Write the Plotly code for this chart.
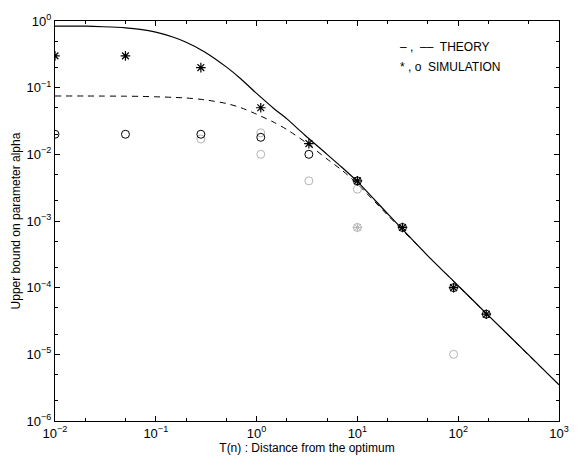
import plotly.graph_objects as go

# Theory curves
x_theory = [0.01, 0.02, 0.03, 0.05, 0.07, 0.1, 0.15, 0.2, 0.3, 0.5, 0.7, 1, 1.5, 2, 3, 5, 7, 10, 20, 50, 100, 200, 500, 1000]
y_theory_solid = [0.84, 0.835, 0.82, 0.79, 0.75, 0.68, 0.57, 0.48, 0.35, 0.205, 0.135, 0.082, 0.048, 0.034, 0.0195, 0.01, 0.0064, 0.0039, 0.00128, 0.0003, 1.07e-4, 3.8e-5, 9.8e-6, 3.5e-6]
y_theory_dashed = [0.075, 0.075, 0.0748, 0.0745, 0.074, 0.073, 0.0715, 0.07, 0.066, 0.058, 0.05, 0.04, 0.03, 0.0235, 0.0155, 0.0085, 0.0058, 0.0036, 0.00122, 0.0003, 1.06e-4, 3.8e-5, 9.7e-6, 3.5e-6]

# Simulation points
x_sim = [0.01, 0.05, 0.28, 1.1, 3.3, 10, 28, 90, 190]
y_sim_star = [0.3, 0.3, 0.2, 0.05, 0.0145, 0.004, 0.0008, 0.0001, 0.00004]
y_sim_circle = [0.02, 0.02, 0.02, 0.018, 0.01, 0.004, 0.0008, 0.0001, 0.00004]

x_grey_circle = [0.28, 1.1, 1.1, 3.3, 10, 10, 90]
y_grey_circle = [0.017, 0.021, 0.01, 0.004, 0.003, 0.0008, 0.00001]
x_grey_star = [10]
y_grey_star = [0.0008]

x_tickvals = [0.01, 0.1, 1, 10, 100, 1000]
x_ticktext = ["10<sup>−2</sup>", "10<sup>−1</sup>", "10<sup>0</sup>", "10<sup>1</sup>", "10<sup>2</sup>", "10<sup>3</sup>"]
y_tickvals = [1e-6, 1e-5, 1e-4, 1e-3, 1e-2, 1e-1, 1]
y_ticktext = ["10<sup>−6</sup>", "10<sup>−5</sup>", "10<sup>−4</sup>", "10<sup>−3</sup>", "10<sup>−2</sup>", "10<sup>−1</sup>", "10<sup>0</sup>"]

FONT = "Liberation Sans, Arial, sans-serif"
GREY = "#b4b4b4"
fig = go.Figure()
fig.add_trace(go.Scatter(x=x_theory, y=y_theory_dashed, mode="lines", line=dict(color="black", width=1, dash="6px,5px", shape="spline", smoothing=0.7), showlegend=False))
fig.add_trace(go.Scatter(x=x_theory, y=y_theory_solid, mode="lines", line=dict(color="black", width=1.2, shape="spline", smoothing=0.7), showlegend=False))
fig.add_trace(go.Scatter(x=x_grey_circle, y=y_grey_circle, mode="markers", marker=dict(symbol="circle-open", size=8, color=GREY, line=dict(width=1, color=GREY)), showlegend=False))
fig.add_trace(go.Scatter(x=x_grey_star, y=y_grey_star, mode="markers", marker=dict(symbol="asterisk-open", size=8, color=GREY, line=dict(width=1, color=GREY)), showlegend=False))
fig.add_trace(go.Scatter(x=x_sim, y=y_sim_circle, mode="markers", marker=dict(symbol="circle-open", size=8, color="black", line=dict(width=1, color="black")), showlegend=False))
fig.add_trace(go.Scatter(x=x_sim, y=y_sim_star, mode="markers", marker=dict(symbol="asterisk-open", size=8, color="black", line=dict(width=1.2, color="black")), showlegend=False))

axis_common = dict(
    type="log", showgrid=False, zeroline=False, showline=True, linecolor="black", linewidth=1.3,
    mirror="allticks", ticks="inside", ticklen=5, tickwidth=1, tickcolor="black",
    minor=dict(ticks="inside", ticklen=3, tickwidth=1, tickcolor="black", showgrid=False),
    tickfont=dict(family=FONT, size=13, color="black"),
)
fig.update_xaxes(range=[-2, 3], tickvals=x_tickvals, ticktext=x_ticktext,
                 title=dict(text="T(n) : Distance from the optimum", font=dict(family=FONT, size=12, color="black"), standoff=3),
                 **axis_common)
fig.update_yaxes(range=[-6, 0], tickvals=y_tickvals, ticktext=y_ticktext,
                 title=dict(text="Upper bound on parameter alpha", font=dict(family=FONT, size=12, color="black"), standoff=3),
                 **axis_common)

fig.add_annotation(x=0.68, y=0.936, xref="paper", yref="paper", xanchor="left", yanchor="middle", showarrow=False,
                   text="– ,  ––  THEORY", font=dict(family=FONT, size=12, color="black"))
fig.add_annotation(x=0.68, y=0.886, xref="paper", yref="paper", xanchor="left", yanchor="middle", showarrow=False,
                   text="* , o  SIMULATION", font=dict(family=FONT, size=12, color="black"))

fig.update_layout(width=581, height=464, margin=dict(l=55, r=13, t=19, b=40),
                  paper_bgcolor="white", plot_bgcolor="white")
fig.write_html("out.html")
